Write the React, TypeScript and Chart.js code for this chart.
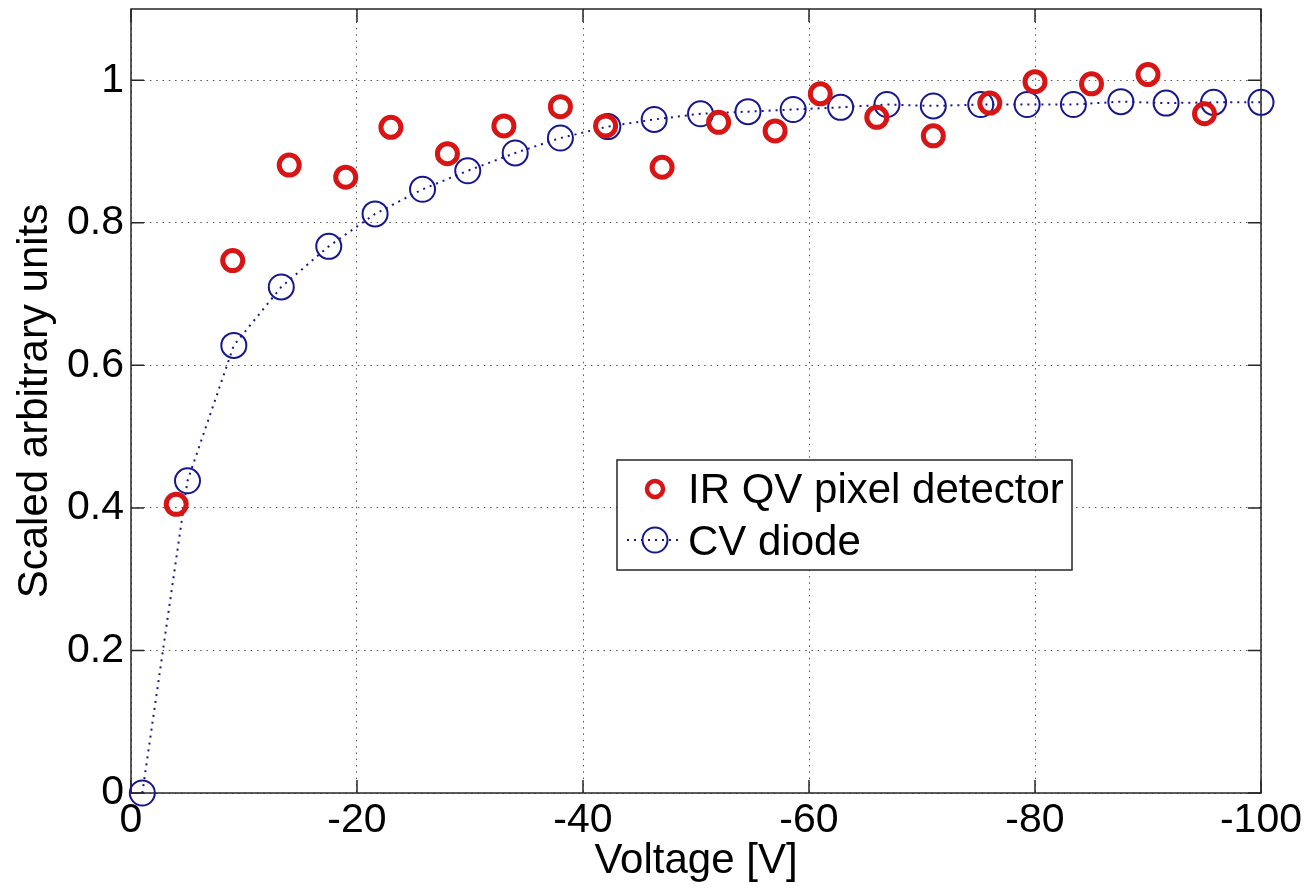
import React, { useEffect, useRef } from "react";
import { Chart, registerables } from "chart.js";

Chart.register(...registerables);

// ---- data ----
const seriesLabels = ["IR QV pixel detector", "CV diode"];

const irVoltage = [-4, -9, -14, -19, -23, -28, -33, -38, -42, -47, -52, -57, -61, -66, -71, -76, -80, -85, -90, -95];
const irSignal = [0.405, 0.747, 0.881, 0.864, 0.934, 0.897, 0.936, 0.963, 0.936, 0.878, 0.941, 0.929, 0.981, 0.948, 0.922, 0.968, 0.998, 0.995, 1.008, 0.953];

const cvVoltage = [-1.0, -5.0, -9.1, -13.3, -17.5, -21.6, -25.8, -29.8, -34.0, -38.0, -42.2, -46.3, -50.4, -54.6, -58.6, -62.8, -66.9, -71.0, -75.2, -79.3, -83.4, -87.6, -91.6, -95.8, -100];
const cvSignal = [0.0, 0.438, 0.628, 0.71, 0.767, 0.8125, 0.847, 0.873, 0.898, 0.919, 0.935, 0.945, 0.953, 0.956, 0.959, 0.962, 0.966, 0.964, 0.966, 0.966, 0.966, 0.97, 0.968, 0.969, 0.969];

const xTicks = [0, -20, -40, -60, -80, -100];
const yTicks = [0, 0.2, 0.4, 0.6, 0.8, 1];

const xTitle = "Voltage [V]";
const yTitle = "Scaled arbitrary units";

// ---- styles ----
const FONT = "'Liberation Sans', Arial, Helvetica, sans-serif";
const RED = "#d81414";
const NAVY = "#16168e";
const FRAME = "#262626";

const fmt = (v: number) => {
  const n = parseFloat(Number(v).toFixed(2));
  return n === 0 ? "0" : String(n);
};

const framePlugin = {
  id: "matlabFrame",
  beforeDatasetsDraw(chart: any) {
    const { ctx, chartArea, scales } = chart;
    const { left, right, top, bottom } = chartArea;
    ctx.save();
    ctx.lineWidth = 1.5;
    ctx.strokeStyle = FRAME;
    ctx.strokeRect(left, top, right - left, bottom - top);
    const tl = 13;
    ctx.beginPath();
    scales.x.ticks.forEach((t: any) => {
      const px = scales.x.getPixelForValue(t.value);
      ctx.moveTo(px, bottom);
      ctx.lineTo(px, bottom - tl);
      ctx.moveTo(px, top);
      ctx.lineTo(px, top + tl);
    });
    scales.y.ticks.forEach((t: any) => {
      const py = scales.y.getPixelForValue(t.value);
      ctx.moveTo(left, py);
      ctx.lineTo(left + tl, py);
      ctx.moveTo(right, py);
      ctx.lineTo(right - tl, py);
    });
    ctx.stroke();
    ctx.restore();
  },
};

const legendPlugin = {
  id: "boxLegend",
  afterDraw(chart: any) {
    const { ctx } = chart;
    const box = { x: 617, y: 460, w: 455, h: 110 };
    ctx.save();
    ctx.fillStyle = "#ffffff";
    ctx.fillRect(box.x, box.y, box.w, box.h);
    ctx.lineWidth = 1.5;
    ctx.strokeStyle = FRAME;
    ctx.strokeRect(box.x, box.y, box.w, box.h);

    const rows = [
      { cy: 489, base: 503 },
      { cy: 540, base: 555 },
    ];
    const mx = 655;
    chart.data.datasets.forEach((ds: any, i: number) => {
      const r = rows[i];
      if (!r) return;
      if (ds.showLine) {
        ctx.save();
        ctx.strokeStyle = ds.borderColor;
        ctx.lineWidth = ds.borderWidth;
        ctx.setLineDash(ds.borderDash || []);
        ctx.beginPath();
        ctx.moveTo(mx - 28, r.cy);
        ctx.lineTo(mx + 28, r.cy);
        ctx.stroke();
        ctx.restore();
      }
      ctx.beginPath();
      ctx.strokeStyle = ds.pointBorderColor;
      ctx.lineWidth = i === 0 ? 4.5 : ds.pointBorderWidth;
      const rad = i === 0 ? 8 : ds.pointRadius;
      ctx.arc(mx, r.cy, rad, 0, Math.PI * 2);
      ctx.stroke();
      ctx.fillStyle = "#000";
      ctx.font = `42px ${FONT}`;
      ctx.textBaseline = "alphabetic";
      ctx.textAlign = "left";
      ctx.fillText(ds.label, 688, r.base);
    });
    ctx.restore();
  },
};

export default function App() {
  const canvasRef = useRef<HTMLCanvasElement | null>(null);

  useEffect(() => {
    const canvas = canvasRef.current;
    if (!canvas) return;
    const chart = new Chart(canvas, {
      type: "scatter",
      data: {
        datasets: [
          {
            label: seriesLabels[0],
            data: irVoltage.map((x, i) => ({ x, y: irSignal[i] })),
            showLine: false,
            pointStyle: "circle",
            pointRadius: 10,
            pointHoverRadius: 10,
            pointBorderWidth: 5,
            pointBorderColor: RED,
            pointBackgroundColor: "rgba(0,0,0,0)",
            borderColor: RED,
            clip: false,
            order: 0,
          } as any,
          {
            label: seriesLabels[1],
            data: cvVoltage.map((x, i) => ({ x, y: cvSignal[i] })),
            showLine: true,
            borderColor: NAVY,
            borderWidth: 2,
            borderDash: [2, 5],
            tension: 0,
            pointStyle: "circle",
            pointRadius: 12.5,
            pointHoverRadius: 12.5,
            pointBorderWidth: 2,
            pointBorderColor: NAVY,
            pointBackgroundColor: "rgba(0,0,0,0)",
            clip: false,
            order: 1,
          } as any,
        ],
      },
      options: {
        animation: false,
        responsive: false,
        devicePixelRatio: 1,
        events: [],
        layout: { autoPadding: false, padding: { top: 9, right: 43, left: 0, bottom: 0 } },
        plugins: {
          legend: { display: false },
          tooltip: { enabled: false },
        },
        scales: {
          x: {
            type: "linear",
            min: -100,
            max: 0,
            reverse: true,
            afterBuildTicks: (scale: any) => {
              scale.ticks = xTicks.map((v) => ({ value: v }));
            },
            afterFit: (scale: any) => {
              scale.height = 97;
              scale.paddingLeft = 0;
              scale.paddingRight = 0;
            },
            ticks: {
              callback: (v: any) => fmt(v),
              color: "#000",
              font: { family: FONT, size: 41 },
              padding: 3,
              maxRotation: 0,
              autoSkip: false,
            },
            grid: {
              color: "#555",
              lineWidth: 1,
              drawTicks: false,
            },
            border: { display: false, dash: [1.5, 4.8] },
            title: {
              display: true,
              text: xTitle,
              color: "#000",
              font: { family: FONT, size: 42 },
              padding: { top: 0, bottom: 3 },
            },
          },
          y: {
            type: "linear",
            min: 0,
            max: 1.1,
            afterBuildTicks: (scale: any) => {
              scale.ticks = yTicks.map((v) => ({ value: v }));
            },
            afterFit: (scale: any) => {
              scale.width = 131;
              scale.paddingTop = 0;
              scale.paddingBottom = 0;
            },
            ticks: {
              callback: (v: any) => fmt(v),
              color: "#000",
              font: { family: FONT, size: 41 },
              padding: 7,
              autoSkip: false,
            },
            grid: {
              color: "#555",
              lineWidth: 1,
              drawTicks: false,
            },
            border: { display: false, dash: [1.5, 4.8] },
            title: {
              display: true,
              text: yTitle,
              color: "#000",
              font: { family: FONT, size: 42 },
              padding: { top: 10, bottom: 0 },
            },
          },
        },
      } as any,
      plugins: [framePlugin, legendPlugin],
    });
    return () => chart.destroy();
  }, []);

  return (
    <div style={{ position: "fixed", left: 0, top: 0, width: 1304, height: 890, background: "#fff" }}>
      <canvas ref={canvasRef} width={1304} height={890} style={{ display: "block" }} />
    </div>
  );
}
